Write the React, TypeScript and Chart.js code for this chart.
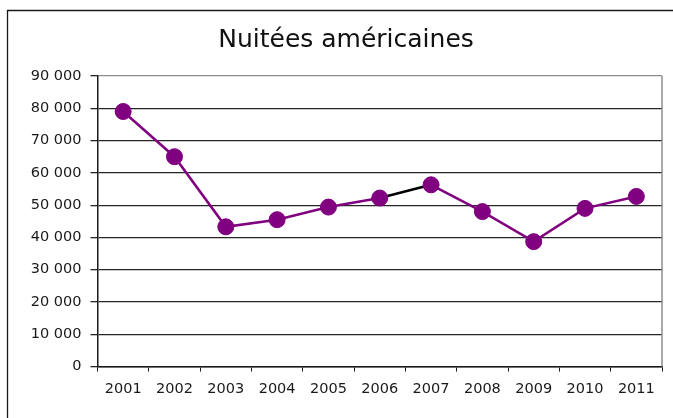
import React, { useEffect, useRef } from "react";
import { Chart, registerables } from "chart.js";

Chart.register(...registerables);

const titleText = "Nuitées américaines";
const years = ["2001", "2002", "2003", "2004", "2005", "2006", "2007", "2008", "2009", "2010", "2011"];
const nights = [79000, 65000, 43300, 45500, 49400, 52200, 56300, 48000, 38700, 49000, 52700];
const yMin = 0;
const yMax = 90000;
const yStep = 10000;
const highlightedSegmentStart = 5; // segment 2006 -> 2007 drawn in black

const PURPLE = "#800080";
const FONT = "'DejaVu Sans', Verdana, sans-serif";

const formatThousands = (v: number) =>
  String(Math.round(v)).replace(/\B(?=(\d{3})+(?!\d))/g, " ");

const framePlugin = {
  id: "frames",
  beforeDraw(chart: any) {
    const { ctx, width, height } = chart;
    ctx.save();
    ctx.fillStyle = "#ffffff";
    ctx.fillRect(0, 0, width, height);
    ctx.strokeStyle = "#1a1a1a";
    ctx.lineWidth = 1.3;
    ctx.beginPath();
    ctx.moveTo(7.5, height);
    ctx.lineTo(7.5, 10.5);
    ctx.lineTo(width, 10.5);
    ctx.stroke();
    ctx.restore();
  },
  beforeDatasetsDraw(chart: any) {
    const { ctx, chartArea } = chart;
    ctx.save();
    ctx.strokeStyle = "#8c8c8c";
    ctx.lineWidth = 1.5;
    ctx.beginPath();
    ctx.moveTo(chartArea.right, chartArea.top);
    ctx.lineTo(chartArea.right, chartArea.bottom);
    ctx.stroke();
    ctx.restore();
  },
};

export default function App() {
  const canvasRef = useRef<HTMLCanvasElement | null>(null);

  useEffect(() => {
    if (!canvasRef.current) return;
    const chart = new Chart(canvasRef.current, {
      type: "line",
      data: {
        labels: years,
        datasets: [
          {
            label: titleText,
            data: nights,
            borderColor: PURPLE,
            backgroundColor: PURPLE,
            borderWidth: 2.5,
            pointRadius: 8,
            pointHoverRadius: 8,
            pointBackgroundColor: PURPLE,
            pointBorderColor: PURPLE,
            pointBorderWidth: 1,
            tension: 0,
            segment: {
              borderColor: (ctx: any) =>
                ctx.p0DataIndex === highlightedSegmentStart ? "#000000" : PURPLE,
            },
          },
        ],
      },
      options: {
        responsive: false,
        animation: false,
        events: [],
        layout: { padding: { left: 30, right: 11, top: 0, bottom: 11 } },
        plugins: {
          legend: { display: false },
          tooltip: { enabled: false },
          title: {
            display: true,
            text: titleText,
            color: "#111111",
            font: { family: FONT, size: 25, weight: "normal", lineHeight: 1.2 },
            padding: { top: 25, bottom: 21 },
          },
        },
        scales: {
          x: {
            type: "category",
            offset: true,
            grid: {
              offset: true,
              drawOnChartArea: false,
              drawTicks: true,
              tickLength: 5,
              color: "#1a1a1a",
              lineWidth: 1,
            },
            border: { display: true, color: "#1a1a1a", width: 1.5 },
            ticks: {
              color: "#1a1a1a",
              padding: 9,
              maxRotation: 0,
              autoSkip: false,
              font: { family: FONT, size: 14.5 },
            },
          },
          y: {
            min: yMin,
            max: yMax,
            afterFit: (scale: any) => {
              scale.width = 67.5;
            },
            grid: {
              color: (ctx: any) => (ctx.tick && ctx.tick.value === yMax ? "#8c8c8c" : "#262626"),
              tickColor: "#262626",
              lineWidth: 1.3,
              drawTicks: true,
              tickLength: 7,
            },
            border: { display: true, color: "#1a1a1a", width: 1.5 },
            ticks: {
              stepSize: yStep,
              color: "#1a1a1a",
              padding: 9,
              font: { family: FONT, size: 14.5 },
              callback: (v: any) => formatThousands(Number(v)),
            },
          },
        },
      },
      plugins: [framePlugin],
    });
    return () => chart.destroy();
  }, []);

  return (
    <div style={{ position: "absolute", left: 0, top: 0, width: 673, height: 418 }}>
      <canvas ref={canvasRef} width={673} height={418} />
    </div>
  );
}
